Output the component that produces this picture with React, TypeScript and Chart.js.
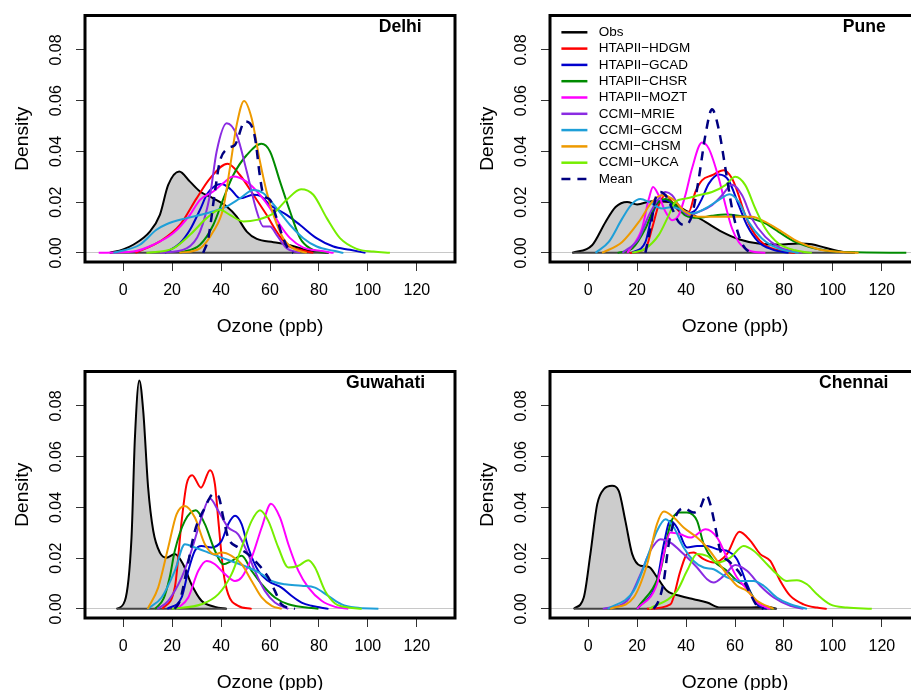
import React, { useEffect, useRef } from 'react';
import { Chart, registerables } from 'chart.js';

Chart.register(...registerables);

type Pt = [number, number];

const FONT = "'Liberation Sans', Arial, Helvetica, sans-serif";

// Axis ticks and ranges
const xTicks = [0, 20, 40, 60, 80, 100, 120];
const yTicks = [0, 0.02, 0.04, 0.06, 0.08];
const X_MIN = -15.6;
const X_MAX = 135.6;
const Y_MIN = -0.0036;
const Y_MAX = 0.0936;

const seriesLabels = [
  'Obs',
  'HTAPII−HDGM',
  'HTAPII−GCAD',
  'HTAPII−CHSR',
  'HTAPII−MOZT',
  'CCMI−MRIE',
  'CCMI−GCCM',
  'CCMI−CHSM',
  'CCMI−UKCA',
  'Mean',
];
const seriesColors = [
  '#000000', '#FF0000', '#0000CD', '#008B00', '#FF00FF',
  '#8A2BE2', '#1E9FD8', '#EE9A00', '#76EE00', '#000080',
];

// ---------------- Delhi ----------------
const delhiObs: Pt[] = [[-5.5,0],[0,0.0014],[4.1,0.0032],[10.9,0.0084],[15,0.015],[18.4,0.0268],[22.9,0.0321],[27.3,0.0281],[31.4,0.0242],[36.8,0.0215],[42.3,0.0183],[46.4,0.0143],[50.5,0.0084],[54.6,0.0055],[61.4,0.0042],[66.8,0.0034],[72.3,0.0018],[77.7,0.0005],[84,0]];
const delhiHDGM: Pt[] = [[5,0],[15,0.0045],[23.2,0.011],[30,0.0215],[35.5,0.0294],[42.7,0.0351],[47.7,0.0307],[53.2,0.0229],[58.6,0.015],[62.7,0.0084],[66.8,0.0032],[72.3,0.0012],[77.7,0]];
const delhiGCAD: Pt[] = [[17,0],[23.2,0.0038],[27.3,0.0091],[31.4,0.017],[34.5,0.0235],[40.2,0.0272],[44,0.025],[47.7,0.0215],[53.2,0.0229],[56,0.0225],[60,0.0189],[66.8,0.015],[72.3,0.011],[79,0.0058],[85.9,0.0025],[92.7,0.0012],[99,0]];
const delhiCHSR: Pt[] = [[23,0],[31.4,0.0032],[36.8,0.011],[41,0.0215],[45,0.0307],[50.5,0.0386],[56.5,0.043],[60,0.04],[64.1,0.0281],[68.2,0.0163],[72.3,0.0058],[76.4,0.0018],[83,0]];
const delhiMOZT: Pt[] = [[-10,0],[4.1,0.0005],[12.3,0.0032],[20.5,0.0078],[27.3,0.015],[31.4,0.0209],[36.8,0.0242],[40.9,0.0275],[45,0.0301],[50.4,0.0281],[55.9,0.0229],[60,0.0176],[64.1,0.011],[68.2,0.0058],[73.6,0.0021],[80.4,0.0008],[86,0]];
const delhiMRIE: Pt[] = [[15,0],[25.9,0.0018],[31.4,0.0084],[35.5,0.0229],[38.2,0.04],[42.3,0.0511],[46.4,0.0465],[50.5,0.0321],[54.6,0.0163],[57.3,0.0104],[60,0.0104],[62.7,0.0071],[66.8,0.0018],[72.3,0]];
const delhiGCCM: Pt[] = [[-4,0],[6.8,0.0032],[13.6,0.0091],[17.7,0.0113],[25.9,0.0137],[34.1,0.0156],[42.3,0.0183],[47.7,0.0215],[53.2,0.0248],[57.3,0.0235],[62.7,0.0176],[68.2,0.011],[73.6,0.0058],[79.1,0.0025],[86,0.0008],[90,0]];
const delhiCHSM: Pt[] = [[23,0],[31.4,0.0018],[36.8,0.0084],[40.9,0.0176],[43.6,0.0334],[46.4,0.0505],[49.4,0.0599],[52.5,0.0531],[55.9,0.036],[58.6,0.0242],[61.4,0.015],[65.4,0.0058],[69.5,0.0018],[75,0]];
const delhiUKCA: Pt[] = [[9.5,0],[20.5,0.0018],[27.3,0.0071],[34.1,0.0137],[39.5,0.017],[43.6,0.015],[49.1,0.0124],[54.6,0.013],[61.4,0.0156],[66.8,0.0209],[72.7,0.0251],[77.7,0.0229],[83.2,0.0137],[88.6,0.0058],[95.4,0.0016],[102.3,0.0005],[109,0]];
const delhiMean: Pt[] = [[32.7,0],[34.8,0.0058],[37.5,0.0242],[39.5,0.036],[43,0.0413],[45.7,0.0426],[49.8,0.0518],[51.8,0.0511],[53.9,0.0452],[56,0.0294],[57.3,0.0229],[60,0.0209],[62.7,0.0137],[65.4,0.0058],[68.2,0.0005],[69.5,0]];

// ---------------- Pune ----------------
const puneObs: Pt[] = [[-6.5,0],[1.6,0.003],[7.1,0.0122],[11.2,0.0181],[15.9,0.0201],[20,0.0191],[26.1,0.0204],[32.9,0.0201],[39.7,0.0168],[47.9,0.0122],[54.7,0.0083],[61.5,0.0054],[69.6,0.0037],[77.8,0.0033],[86,0.0037],[91.4,0.0034],[96.9,0.002],[103.7,0.0004],[109,0]];
const puneHDGM: Pt[] = [[17,0],[23.4,0.0017],[26.1,0.0096],[28.8,0.0188],[31.6,0.0227],[34.3,0.0201],[37.7,0.0162],[41.1,0.0162],[43.8,0.024],[46.5,0.0286],[50.6,0.0306],[55.4,0.0326],[58.8,0.0293],[61.5,0.0227],[64.2,0.0148],[68.3,0.007],[72.4,0.003],[79.2,0.0007],[84.6,0]];
const puneGCAD: Pt[] = [[18,0],[23.4,0.0043],[26.1,0.0148],[28.8,0.0201],[31.6,0.0208],[35.6,0.0181],[39.7,0.0155],[43.8,0.0168],[46.5,0.0214],[49.3,0.0273],[53.4,0.0309],[57.4,0.0286],[61.5,0.0188],[64.9,0.0109],[69.6,0.0043],[75.1,0.0014],[81.9,0]];
const puneCHSR: Pt[] = [[12,0],[18,0.0017],[23.4,0.0096],[27.5,0.0188],[31.6,0.0212],[35.6,0.0188],[39.7,0.0148],[45.2,0.0138],[50.6,0.0146],[56.1,0.0151],[61.5,0.0146],[66.9,0.0135],[72.4,0.0116],[77.8,0.0083],[84.6,0.0043],[92.8,0.0017],[102.3,0.0004],[130,0]];
const puneMOZT: Pt[] = [[16,0],[22,0.0096],[24.8,0.0214],[26.5,0.026],[28.8,0.0227],[31.6,0.0162],[34.3,0.0129],[37,0.0148],[39.7,0.0227],[42.4,0.0332],[46.5,0.0435],[49.3,0.0411],[53.4,0.0293],[56.1,0.0188],[58.8,0.0096],[61.5,0.0043],[65.6,0.001],[72.4,0]];
const puneMRIE: Pt[] = [[14,0],[20.7,0.0057],[24.8,0.0148],[28.8,0.0214],[31.6,0.024],[34.3,0.0227],[37,0.0188],[41.1,0.0148],[45.2,0.0162],[50.6,0.0188],[54.7,0.0227],[58.8,0.0269],[62.9,0.0227],[66.9,0.0135],[72.4,0.0063],[77.8,0.0024],[83.3,0.0007],[87.3,0]];
const puneGCCM: Pt[] = [[3,0],[8.4,0.0043],[13.9,0.0135],[18,0.0194],[21.4,0.0212],[24.8,0.0201],[30.2,0.0175],[34.3,0.0181],[38.4,0.0168],[42.4,0.0155],[47.9,0.0175],[53.3,0.0208],[57.8,0.0231],[61.5,0.0201],[65.6,0.0122],[71,0.0057],[77.8,0.0017],[86,0]];
const puneCHSM: Pt[] = [[5.7,0],[13.9,0.0043],[20.7,0.0122],[26.1,0.0201],[30.2,0.0227],[34.3,0.0214],[39.7,0.0162],[45.2,0.0142],[52,0.0142],[58.8,0.0142],[66.9,0.0142],[72.4,0.0122],[79.2,0.0083],[86,0.0043],[94.1,0.0014],[102.3,0.0004],[110.5,0]];
const puneUKCA: Pt[] = [[18,0],[23.4,0.0017],[28.8,0.007],[32.9,0.0148],[35.6,0.0201],[39.7,0.0214],[45.2,0.0227],[50.6,0.024],[56.1,0.0267],[60.1,0.03],[64.2,0.0267],[68.3,0.0175],[72.4,0.0096],[77.8,0.0037],[84.6,0.001],[91.4,0]];
const puneMean: Pt[] = [[23.4,0],[25.4,0.0096],[27.5,0.0214],[29.5,0.024],[31.6,0.0227],[34.3,0.0175],[37,0.0122],[39.7,0.0109],[42.4,0.0148],[45.2,0.0293],[47.9,0.0464],[50.6,0.0566],[53.3,0.049],[56.1,0.0332],[58.8,0.0175],[61.5,0.007],[64.2,0.0017],[67,0]];

// ---------------- Guwahati ----------------
const guwObs: Pt[] = [[-2.7,0],[0.7,0.0032],[3.4,0.028],[4.8,0.0675],[6.6,0.0901],[8.2,0.078],[10.2,0.0478],[12.3,0.0307],[15,0.0222],[17.7,0.0202],[21.1,0.0216],[24.5,0.0176],[27.9,0.0097],[32,0.0032],[37.5,0.0008],[42.3,0]];
const guwHDGM: Pt[] = [[16,0],[21.1,0.0084],[23.9,0.0347],[25.9,0.0491],[28.2,0.0527],[31.8,0.0478],[35.5,0.0547],[37.5,0.0491],[38.9,0.0347],[40.9,0.015],[42.9,0.0058],[47,0.0012],[52.5,0]];
const guwGCAD: Pt[] = [[18,0],[23.9,0.0045],[26.6,0.015],[29.3,0.0229],[32,0.0248],[36.1,0.0242],[40.2,0.0268],[42.9,0.0334],[45.7,0.0367],[48.4,0.0334],[51.1,0.0242],[55.2,0.015],[59.3,0.011],[64.7,0.0084],[68.9,0.0051],[72.9,0.0025],[77,0.0012],[83.9,0]];
const guwCHSR: Pt[] = [[13,0],[16.5,0.004],[19,0.0124],[21.1,0.0229],[25.2,0.0347],[29.7,0.0389],[33.4,0.0334],[37.5,0.0229],[40.9,0.0176],[44.3,0.0189],[48.4,0.0209],[52.5,0.015],[56.6,0.0097],[62,0.0045],[67.5,0.0018],[79.8,0]];
const guwMOZT: Pt[] = [[22,0],[26.6,0.0045],[30.7,0.015],[34.1,0.0189],[37.5,0.0176],[41.6,0.0137],[45.7,0.011],[48.4,0.0124],[52.5,0.0202],[56.6,0.0321],[60.4,0.0415],[64.1,0.036],[67.5,0.0255],[71.6,0.015],[75.7,0.0084],[81.1,0.0032],[86.6,0.0008],[92,0]];
const guwMRIE: Pt[] = [[14,0],[18.4,0.0032],[23.9,0.0124],[27.9,0.0229],[32,0.036],[35.4,0.0435],[38.9,0.0386],[42.9,0.0321],[47,0.0294],[51.1,0.0215],[53.8,0.015],[57.9,0.0071],[62,0.0025],[67.5,0]];
const guwGCCM: Pt[] = [[10,0],[15.7,0.0045],[21.1,0.015],[25.2,0.0255],[29.3,0.0242],[34.8,0.0222],[40.2,0.0202],[45.7,0.0183],[51.1,0.0163],[56.6,0.0137],[60.7,0.011],[66.1,0.0097],[72.9,0.0091],[78.4,0.0084],[83.8,0.0051],[89.3,0.0018],[94.8,0.0005],[104.3,0]];
const guwCHSM: Pt[] = [[10,0],[14.3,0.0084],[18.4,0.0242],[21.8,0.0373],[25.2,0.0406],[29.3,0.036],[33.4,0.0255],[37.5,0.0215],[40.2,0.0222],[44.3,0.0209],[48.4,0.0176],[52.5,0.011],[56.6,0.0045],[60.7,0.0012],[64.8,0]];
const guwUKCA: Pt[] = [[20,0],[32,0.0018],[38.9,0.0058],[44.3,0.0137],[48.4,0.0242],[52.5,0.0347],[55.9,0.0389],[59.3,0.0347],[63.4,0.0242],[67.5,0.0163],[71.6,0.017],[75.7,0.0192],[78.4,0.0163],[82.5,0.0071],[86.6,0.0021],[92,0.0005],[97.5,0]];
const guwMean: Pt[] = [[21,0],[23.2,0.0032],[25.9,0.015],[29.3,0.0307],[33.4,0.0399],[36.8,0.0452],[38.9,0.0445],[40.9,0.036],[42.9,0.0281],[47,0.0242],[51.1,0.0215],[55.2,0.0176],[59.3,0.0124],[62,0.0071],[64.7,0.0018],[70.2,0]];

// ---------------- Chennai ----------------
const cheObs: Pt[] = [[-5.9,0],[-1.8,0.0045],[0.9,0.0216],[3.7,0.0413],[6.4,0.0472],[9.8,0.0485],[12.5,0.0465],[15.2,0.0347],[18,0.0216],[21.4,0.017],[24.7,0.0166],[28.2,0.0124],[32.2,0.0071],[37.7,0.0051],[43.1,0.0038],[48.6,0.0025],[54,0.0005],[64.9,0.0005],[73,0.0008],[77,0]];
const cheHDGM: Pt[] = [[24,0],[33.6,0.0018],[37.7,0.015],[40.4,0.0216],[43.1,0.0222],[47.2,0.0196],[51.3,0.0183],[56.7,0.0216],[61.8,0.0304],[66.3,0.0268],[70.3,0.0216],[74.4,0.0189],[78.5,0.011],[82.6,0.0051],[88,0.0018],[93.5,0.0005],[97.5,0]];
const cheGCAD: Pt[] = [[20,0],[28.1,0.011],[30.9,0.0255],[33.6,0.0347],[36.3,0.0321],[40.4,0.0242],[44.5,0.0248],[48.6,0.0248],[52.7,0.0235],[56.7,0.0229],[60.8,0.0196],[64.9,0.0097],[69,0.0018],[73.1,0]];
const cheCHSR: Pt[] = [[20,0],[29.5,0.015],[33.6,0.0334],[37,0.038],[40.4,0.038],[44.5,0.0347],[47.2,0.0255],[51.3,0.0189],[56.7,0.015],[60.8,0.011],[64.9,0.0084],[69,0.0025],[75.8,0]];
const cheMOZT: Pt[] = [[20,0],[28.1,0.0097],[30.9,0.0216],[33.6,0.0301],[37.7,0.0294],[41.8,0.0281],[48,0.0314],[52.7,0.0281],[56.7,0.0202],[60.8,0.0124],[64.9,0.0078],[69,0.0025],[74.4,0]];
const cheMRIE: Pt[] = [[6,0],[15.9,0.0032],[21.4,0.0137],[25.4,0.0229],[29.5,0.0275],[33.6,0.0261],[39,0.0216],[44.5,0.0163],[48.6,0.0117],[51.3,0.0104],[55.4,0.013],[60.1,0.0173],[64.9,0.015],[70.3,0.0091],[75.8,0.0045],[82.6,0.0012],[88,0]];
const cheGCCM: Pt[] = [[8,0],[18.6,0.0071],[24.1,0.0202],[28.1,0.0307],[31.6,0.0353],[35,0.0321],[39,0.0242],[43.1,0.0189],[47.2,0.0163],[51.3,0.0156],[56.7,0.0124],[62.2,0.011],[67.6,0.011],[71.7,0.0091],[77.1,0.0045],[82.6,0.0018],[89.4,0]];
const cheCHSM: Pt[] = [[9,0],[18.6,0.0045],[24.1,0.0176],[28.1,0.0334],[30.9,0.0384],[35,0.036],[39,0.0321],[44.5,0.0281],[48.6,0.0242],[52.7,0.0189],[56.7,0.0137],[60.8,0.0091],[64.9,0.0071],[69,0.0032],[75.8,0]];
const cheUKCA: Pt[] = [[25,0],[36.3,0.0071],[40.4,0.015],[44.5,0.0216],[48.6,0.0209],[52.7,0.0183],[58.1,0.0202],[63.5,0.0248],[67.6,0.0229],[73.1,0.0176],[77.1,0.0137],[81.2,0.011],[85.3,0.0113],[89.4,0.0097],[93.5,0.0058],[98.9,0.0018],[105.7,0.0005],[115.9,0]];
const cheMean: Pt[] = [[26.8,0],[28.8,0.0032],[30.9,0.011],[32.9,0.0255],[35.6,0.036],[39,0.0397],[43.1,0.038],[45.8,0.0399],[48.2,0.0449],[49.9,0.0413],[52,0.0321],[54,0.0229],[58.1,0.0183],[62.2,0.0137],[66.3,0.0058],[69,0.0012],[71.7,0]];

interface PanelDef {
  name: string;
  series: Pt[][];
  left: number;
  top: number;
  titleX: number;
  legend: boolean;
}

const panels: PanelDef[] = [
  { name: 'Delhi', series: [delhiObs, delhiHDGM, delhiGCAD, delhiCHSR, delhiMOZT, delhiMRIE, delhiGCCM, delhiCHSM, delhiUKCA, delhiMean], left: 0, top: 0, titleX: 122, legend: false },
  { name: 'Pune', series: [puneObs, puneHDGM, puneGCAD, puneCHSR, puneMOZT, puneMRIE, puneGCCM, puneCHSM, puneUKCA, puneMean], left: 465, top: 0, titleX: 121.6, legend: true },
  { name: 'Guwahati', series: [guwObs, guwHDGM, guwGCAD, guwCHSR, guwMOZT, guwMRIE, guwGCCM, guwCHSM, guwUKCA, guwMean], left: 0, top: 356, titleX: 123.4, legend: false },
  { name: 'Chennai', series: [cheObs, cheHDGM, cheGCAD, cheCHSR, cheMOZT, cheMRIE, cheGCCM, cheCHSM, cheUKCA, cheMean], left: 465, top: 356, titleX: 122.7, legend: false },
];

const CANVAS_W = 465;
const CANVAS_H = 356;
const MEAN_DASH = [9, 7];

const framePlugin = {
  id: 'frame',
  afterDraw(chart: any, _args: any, opts: any) {
    const { ctx, chartArea: a, scales } = chart;
    ctx.save();
    ctx.setLineDash([]);
    ctx.lineWidth = 3;
    ctx.strokeStyle = '#000';
    ctx.strokeRect(a.left, a.top, a.right - a.left, a.bottom - a.top);
    ctx.font = `bold 17.6px ${FONT}`;
    ctx.textAlign = 'right';
    ctx.textBaseline = 'middle';
    ctx.fillStyle = '#000';
    ctx.fillText(opts.title, scales.x.getPixelForValue(opts.titleX), a.top + 12);
    if (opts.legend) {
      const lx = a.left + 11.4;
      const ly = a.top + 16.8;
      const datasets = chart.data.datasets.filter((d: any) => !d.hidden && d.legendItem);
      datasets.forEach((ds: any, i: number) => {
        const y = ly + i * 16.3;
        ctx.strokeStyle = ds.borderColor;
        ctx.lineWidth = 2.5;
        ctx.setLineDash(ds.borderDash || []);
        ctx.beginPath();
        ctx.moveTo(lx, y);
        ctx.lineTo(lx + 26, y);
        ctx.stroke();
        ctx.setLineDash([]);
        ctx.font = `13.5px ${FONT}`;
        ctx.textAlign = 'left';
        ctx.textBaseline = 'middle';
        ctx.fillStyle = '#000';
        ctx.fillText(ds.label, lx + 37.3, y);
      });
    }
    ctx.restore();
  },
};

function Panel({ panel }: { panel: PanelDef }) {
  const ref = useRef<HTMLCanvasElement>(null);
  useEffect(() => {
    if (!ref.current) return;
    const datasets: any[] = panel.series.map((s, i) => ({
      label: seriesLabels[i],
      legendItem: true,
      data: s.map(([x, y]) => ({ x, y })),
      borderColor: seriesColors[i],
      backgroundColor: i === 0 ? '#CCCCCC' : seriesColors[i],
      fill: i === 0 ? 'origin' : false,
      borderWidth: i === 9 ? 2.5 : 2,
      borderDash: i === 9 ? MEAN_DASH : [],
      pointRadius: 0,
      cubicInterpolationMode: 'monotone',
      order: 20 - i,
    }));
    const obs = panel.series[0];
    datasets.push({
      label: 'ObsBase',
      legendItem: false,
      data: [{ x: obs[0][0], y: 0 }, { x: obs[obs.length - 1][0], y: 0 }],
      borderColor: '#444444',
      borderWidth: 2,
      pointRadius: 0,
      fill: false,
      order: 19.5,
    });

    const chart = new Chart(ref.current, {
      type: 'line',
      data: { datasets },
      plugins: [framePlugin],
      options: {
        responsive: false,
        devicePixelRatio: 1,
        animation: false,
        events: [],
        layout: { padding: { left: 0, top: 15.5, right: 10, bottom: 0 } },
        plugins: {
          legend: { display: false },
          tooltip: { enabled: false },
          frame: { title: panel.name, titleX: panel.titleX, legend: panel.legend },
        } as any,
        scales: {
          x: {
            type: 'linear',
            min: X_MIN,
            max: X_MAX,
            afterBuildTicks: (ax: any) => {
              ax.ticks = xTicks.map((v) => ({ value: v }));
            },
            afterFit: (ax: any) => {
              ax.height = 94;
            },
            grid: {
              display: true,
              drawOnChartArea: false,
              drawTicks: true,
              tickLength: 9,
              color: '#333333',
              tickColor: '#333333',
              lineWidth: 1,
            },
            border: { display: false },
            ticks: {
              autoSkip: false,
              maxRotation: 0,
              padding: 10,
              color: '#000',
              font: { family: FONT, size: 16 },
            },
            title: {
              display: true,
              text: 'Ozone (ppb)',
              color: '#000',
              font: { family: FONT, size: 19.2 },
              padding: { top: 0, bottom: 17.5 },
            },
          },
          y: {
            type: 'linear',
            min: Y_MIN,
            max: Y_MAX,
            afterBuildTicks: (ax: any) => {
              ax.ticks = yTicks.map((v) => ({ value: v }));
            },
            afterFit: (ax: any) => {
              ax.width = 85;
            },
            grid: {
              display: true,
              drawOnChartArea: true,
              drawTicks: true,
              tickLength: 9,
              color: (c: any) => (c.tick && c.tick.value === 0 ? '#C8C8C8' : 'rgba(0,0,0,0)'),
              tickColor: '#333333',
              lineWidth: 1,
            },
            border: { display: false },
            ticks: {
              autoSkip: false,
              minRotation: 90,
              maxRotation: 90,
              crossAlign: 'center',
              padding: 4,
              color: '#000',
              font: { family: FONT, size: 16 },
              callback: (v: any) => Number(v).toFixed(2),
            },
            title: {
              display: true,
              text: 'Density',
              color: '#000',
              font: { family: FONT, size: 19.2 },
              padding: { top: 11, bottom: 0 },
            },
          },
        },
      } as any,
    });
    return () => chart.destroy();
  }, [panel]);

  return (
    <canvas
      ref={ref}
      width={CANVAS_W}
      height={CANVAS_H}
      style={{ position: 'absolute', left: panel.left, top: panel.top, width: CANVAS_W, height: CANVAS_H }}
    />
  );
}

export default function App() {
  return (
    <div
      style={{
        position: 'absolute',
        left: 0,
        top: 0,
        width: 911,
        height: 690,
        overflow: 'hidden',
        background: '#ffffff',
      }}
    >
      {panels.map((p) => (
        <Panel key={p.name} panel={p} />
      ))}
    </div>
  );
}
